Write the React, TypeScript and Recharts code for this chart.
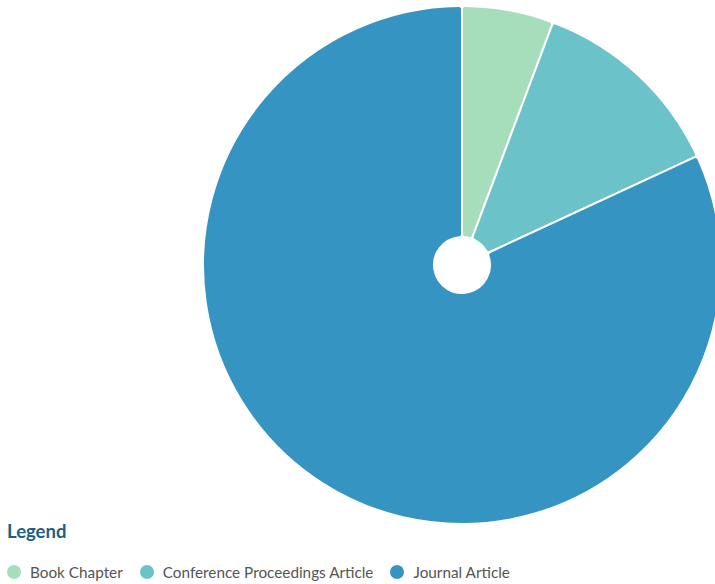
import React from "react";
import { PieChart, Pie, Cell, Legend } from "recharts";

const categories = ["Book Chapter", "Conference Proceedings Article", "Journal Article"];
const counts = [6, 13, 86];
const colors = ["#a6ddbb", "#6bc3c9", "#3594c1"];

const data = categories.map((name, i) => ({ name, value: counts[i] }));

const renderLegend = () => (
  <div style={{ fontFamily: "Lato, 'Noto Sans', sans-serif" }}>
    <div style={{ fontWeight: 700, fontSize: 18.5, color: "#1d5f80", marginBottom: 21, paddingLeft: 7 }}>Legend</div>
    <div style={{ display: "flex", alignItems: "center", paddingLeft: 7 }}>
      {categories.map((c, i) => (
        <div key={c} style={{ display: "flex", alignItems: "center", marginRight: 17 }}>
          <span
            style={{
              display: "inline-block",
              width: 14,
              height: 14,
              borderRadius: 7,
              background: colors[i],
              marginRight: 9,
            }}
          />
          <span style={{ fontSize: 15.3, color: "#555" }}>{c}</span>
        </div>
      ))}
    </div>
  </div>
);

export default function App() {
  return (
    <div style={{ position: "absolute", left: 0, top: 0, width: 715, height: 584, background: "#fff" }}>
      <PieChart width={715} height={584} margin={{ top: 0, right: 0, bottom: 0, left: 0 }}>
        <Pie
          data={data}
          dataKey="value"
          nameKey="name"
          cx={462}
          cy={265}
          innerRadius={28}
          outerRadius={259}
          startAngle={90}
          endAngle={-270}
          cornerRadius={3}
          stroke="#fff"
          strokeWidth={2}
          isAnimationActive={false}
        >
          {data.map((d, i) => (
            <Cell key={d.name} fill={colors[i]} />
          ))}
        </Pie>
        <Legend
          content={renderLegend}
          wrapperStyle={{ position: "absolute", left: 0, top: 520, width: 715 }}
        />
      </PieChart>
    </div>
  );
}
